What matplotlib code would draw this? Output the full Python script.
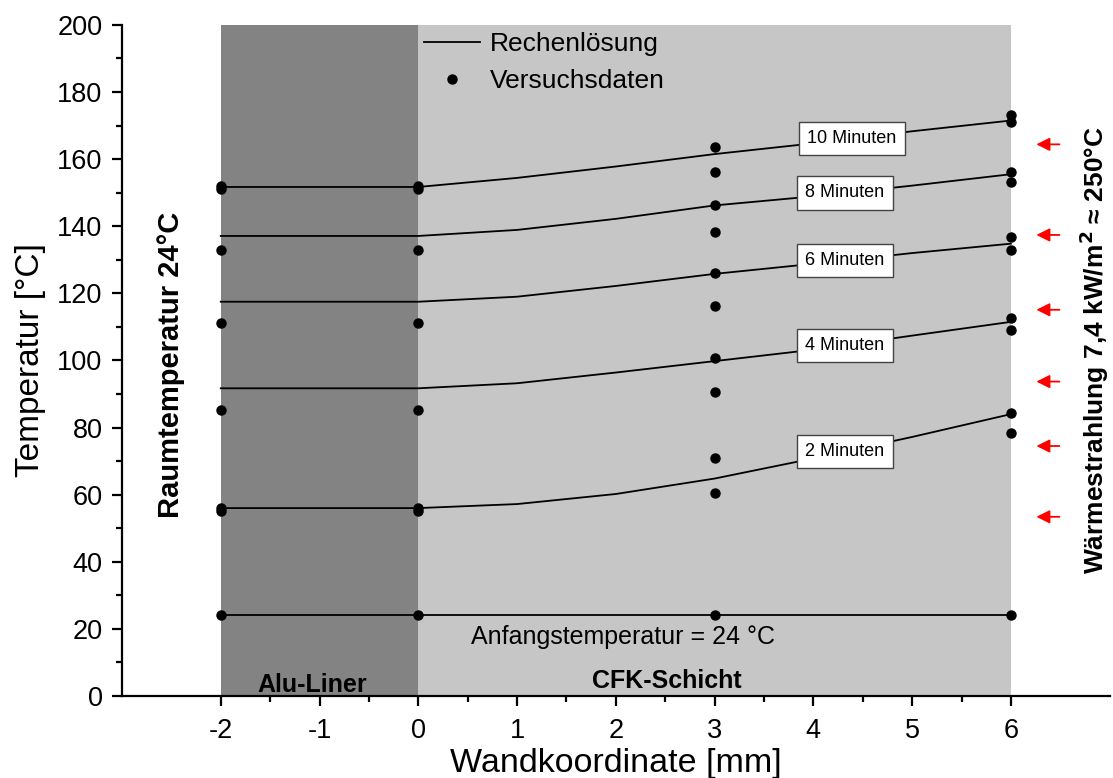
import matplotlib.pyplot as plt
import numpy as np

plt.rcParams['font.family'] = ['Liberation Sans', 'DejaVu Sans']
plt.rcParams['axes.unicode_minus'] = False

# computed solution (Rechenlösung), x positions in mm
x_calc = [-2, 0, 1, 2, 3, 4, 5, 6]
t_2min = [56.0, 56.0, 57.2, 60.2, 64.8, 70.8, 77.2, 84.0]
t_4min = [91.7, 91.7, 93.2, 96.4, 99.8, 103.2, 107.4, 111.5]
t_6min = [117.5, 117.5, 119.0, 122.2, 125.8, 128.8, 132.0, 134.8]
t_8min = [137.1, 137.1, 138.9, 142.2, 146.2, 148.9, 152.1, 155.5]
t_10min = [151.7, 151.7, 154.4, 157.8, 161.5, 164.7, 168.3, 171.5]
t_start = [24, 24, 24, 24, 24, 24, 24, 24]
curve_labels = ['2 Minuten', '4 Minuten', '6 Minuten', '8 Minuten', '10 Minuten']

# measured data (Versuchsdaten)
x_meas = [-2, -2, -2, -2, -2, -2, -2, -2,
          0, 0, 0, 0, 0, 0, 0, 0,
          3, 3, 3, 3, 3, 3, 3, 3, 3, 3, 3,
          6, 6, 6, 6, 6, 6, 6, 6, 6, 6, 6]
t_meas = [152, 151, 133, 111.3, 85.2, 56, 55, 24,
          152, 151, 133, 111.3, 85.2, 56, 55, 24,
          163.6, 156.3, 146.3, 138.2, 126, 116.2, 100.6, 90.5, 70.8, 60.4, 24,
          173.2, 171.2, 156.3, 153.3, 136.9, 132.9, 112.6, 109.1, 84.3, 78.5, 24]

# heat radiation arrows (temperature level of each arrow)
arrow_y = [164.4, 137.4, 115.1, 93.7, 74.5, 53.4]

fig = plt.figure(figsize=(11.13, 7.78), dpi=100)
ax = fig.add_axes([0.1096, 0.1054, 0.8874, 0.8626])

# material regions
ax.axvspan(-2, 0, color='#838383', zorder=0, lw=0)
ax.axvspan(0, 6, color='#c6c6c6', zorder=0, lw=0)

curves = [t_2min, t_4min, t_6min, t_8min, t_10min]
for t in curves + [t_start]:
    ax.plot(x_calc, t, color='black', lw=1.3, zorder=2)
ax.plot([], [], color='black', lw=1.3, label='Rechenlösung')
ax.plot(x_meas, t_meas, 'o', color='black', ms=6.5, zorder=3, label='Versuchsdaten')

# curve labels in white boxes
for t, lab in zip(curves, curve_labels):
    xl = 4.39 if lab.startswith('10') else 4.32
    ax.text(xl, np.interp(xl, x_calc, t), lab, ha='center', va='center', fontsize=13,
            zorder=4, bbox=dict(boxstyle='square,pad=0.45', fc='white', ec='#444444', lw=1))

for y in arrow_y:
    ax.annotate('', xy=(6.23, y), xytext=(6.52, y),
                arrowprops=dict(arrowstyle='-|>', color='red', lw=1.3,
                                mutation_scale=20), annotation_clip=False)

ax.text(2.07, 17.6, 'Anfangstemperatur = 24 °C', ha='center', va='center', fontsize=18)
ax.text(-1.07, 3.4, 'Alu-Liner', ha='center', va='center', fontsize=18, fontweight='bold')
ax.text(2.52, 4.4, 'CFK-Schicht', ha='center', va='center', fontsize=18, fontweight='bold')
ax.text(-2.5, 98.7, 'Raumtemperatur 24°C', rotation=90, ha='center', va='center',
        fontsize=21, fontweight='bold')
ax.text(6.84, 103, 'Wärmestrahlung 7,4 kW/m$^{\\mathbf{2}}$ ≈ 250°C', rotation=90,
        ha='center', va='center', fontsize=19, fontweight='bold')

ax.set_xlim(-3, 7)
ax.set_ylim(0, 200)
ax.set_xticks(range(-2, 7))
ax.set_xticks(np.arange(-1.5, 6, 0.5), minor=True)
ax.set_yticks(range(0, 201, 20))
ax.set_yticks(range(10, 200, 20), minor=True)
for s in ['top', 'right']:
    ax.spines[s].set_visible(False)
for s in ['left', 'bottom']:
    ax.spines[s].set_linewidth(1.6)
ax.tick_params(which='major', length=7, width=1.6, labelsize=19.5)
ax.tick_params(axis='x', which='major', pad=8.5)
ax.tick_params(axis='y', which='major', pad=7)
ax.tick_params(which='minor', length=4, width=1.6)
ax.set_xlabel('Wandkoordinate [mm]', fontsize=24.5, labelpad=3)
ax.set_ylabel('Temperatur [°C]', fontsize=24, labelpad=8)

ax.legend(loc='upper left', bbox_to_anchor=(0.282, 1.025), frameon=False, fontsize=19,
          handlelength=2.1, handletextpad=0.4, labelspacing=0.5)

fig.savefig('out.png', dpi=100)
